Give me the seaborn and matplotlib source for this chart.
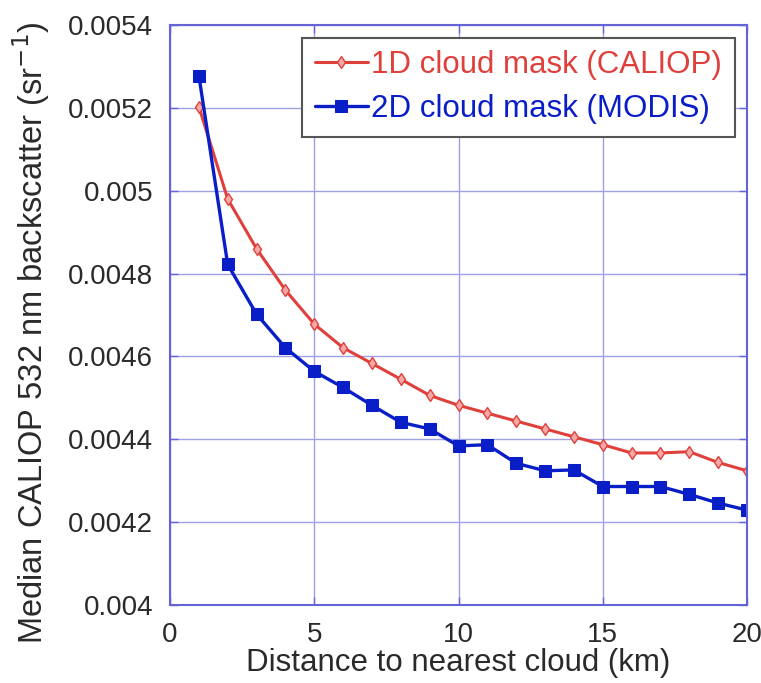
import numpy as np
import pandas as pd
import seaborn as sns
import matplotlib.pyplot as plt

# Median CALIOP 532 nm backscatter versus distance to the nearest cloud
distance_km = list(range(1, 21))
caliop_1d = [0.005203, 0.004980, 0.004860, 0.004760, 0.004678, 0.004621, 0.004583,
             0.004545, 0.004506, 0.004482, 0.004463, 0.004444, 0.004425, 0.004406,
             0.004387, 0.004367, 0.004367, 0.004370, 0.004344, 0.004324]
modis_2d = [0.005278, 0.004822, 0.004702, 0.004621, 0.004564, 0.004525, 0.004482,
            0.004441, 0.004425, 0.004384, 0.004387, 0.004342, 0.004324, 0.004326,
            0.004286, 0.004286, 0.004286, 0.004267, 0.004246, 0.004229]
series_labels = ["1D cloud mask (CALIOP)", "2D cloud mask (MODIS)"]
x_ticks = [0, 5, 10, 15, 20]
y_ticks = [0.004, 0.0042, 0.0044, 0.0046, 0.0048, 0.005, 0.0052, 0.0054]
y_tick_labels = ["0.004", "0.0042", "0.0044", "0.0046", "0.0048", "0.005", "0.0052", "0.0054"]

sns.set_style("white")
plt.rcParams["font.family"] = ["Liberation Sans", "DejaVu Sans"]

df = pd.DataFrame({
    "distance": distance_km * 2,
    "backscatter": caliop_1d + modis_2d,
    "mask": [series_labels[0]] * len(distance_km) + [series_labels[1]] * len(distance_km),
})

red = "#e0403c"
blue = "#0a1ec8"
axis_blue = "#6464d6"
grid_blue = "#a0a0e4"
text_col = "#2a2a2a"

fig = plt.figure(figsize=(7.61, 6.83), dpi=100)
ax = fig.add_axes([170 / 761, 1 - 605 / 683, 577 / 761, 580 / 683])

sns.lineplot(data=df[df["mask"] == series_labels[0]], x="distance", y="backscatter",
             ax=ax, color=red, lw=2.2, marker="d", markersize=6,
             markerfacecolor="#f5a8a6", markeredgecolor=red, markeredgewidth=1.0,
             label=series_labels[0])
sns.lineplot(data=df[df["mask"] == series_labels[1]], x="distance", y="backscatter",
             ax=ax, color=blue, lw=2.4, marker="s", markersize=8,
             markerfacecolor=blue, markeredgecolor=blue,
             label=series_labels[1])

ax.set_xlim(0, 20)
ax.set_ylim(0.004, 0.0054)
ax.set_xticks(x_ticks)
ax.set_xticklabels([str(t) for t in x_ticks])
ax.set_yticks(y_ticks)
ax.set_yticklabels(y_tick_labels)
ax.grid(True, color=grid_blue, lw=1.0)
ax.set_axisbelow(True)
for s in ax.spines.values():
    s.set_visible(True)
    s.set_color(axis_blue)
    s.set_linewidth(1.5)
ax.tick_params(direction="in", length=6, width=1.0, colors=axis_blue,
               labelsize=20, labelcolor=text_col, top=True, right=True,
               bottom=True, left=True)
ax.tick_params(axis="x", pad=12)
ax.tick_params(axis="y", pad=12)

ax.set_xlabel("Distance to nearest cloud (km)", fontsize=22.5, color=text_col, labelpad=0)
ax.set_ylabel("Median CALIOP 532 nm backscatter (sr$^{-1}$)", fontsize=23.5,
              color=text_col)
ax.yaxis.set_label_coords(-0.205, 0.47)

leg = ax.legend(loc="upper right", fontsize=22.5, frameon=True, fancybox=False,
                borderaxespad=0.4, handlelength=1.7, handletextpad=0.1,
                borderpad=0.4, labelspacing=0.45, labelcolor="linecolor")
leg.get_frame().set_edgecolor("#555555")
leg.get_frame().set_linewidth(1.5)
leg.get_frame().set_alpha(1.0)

fig.savefig("out.png", dpi=100, facecolor="white")
